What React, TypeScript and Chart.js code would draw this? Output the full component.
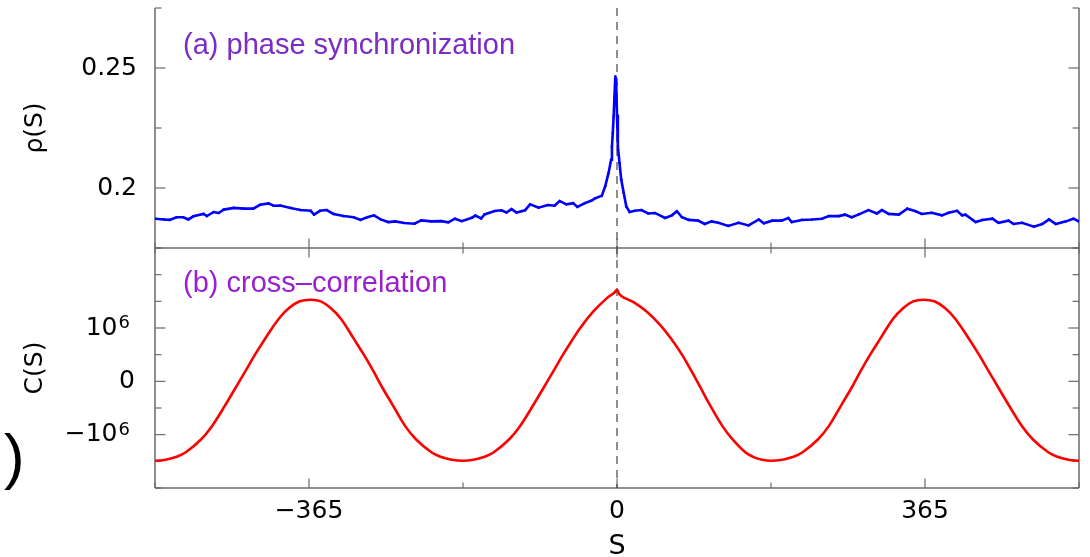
import React, { useEffect, useRef } from "react";
import { Chart, registerables } from "chart.js";

Chart.register(...registerables);

// ---------- data ----------
const lagPhase = [
  -547, -537, -530, -522, -514, -508, -502, -490, -486, -478, -472, -466, -454, -443, -431, -423, -413, -407, -399, -387,
  -375, -363, -359, -352, -344, -336, -324, -312, -304, -296, -288, -280, -271, -263, -252, -240, -232, -220, -208, -200,
  -192, -184, -172, -168, -161, -157, -145, -137, -131, -125, -119, -109, -103, -93, -82, -74, -68, -60, -52, -47,
  -38, -30, -26, -18, -14, -10, -7, -6, -5, -4, -3, -2, -1, 0, 1, 3, 5, 8, 11, 15,
  21, 29, 37, 45, 57, 65, 71, 77, 85, 96, 104, 112, 120, 132, 144, 156, 168, 174, 184, 195,
  203, 207, 219, 231, 243, 251, 263, 270, 278, 286, 298, 308, 314, 322, 334, 344, 354, 361, 373, 385,
  393, 403, 409, 413, 425, 433, 445, 452, 464, 470, 480, 494, 504, 512, 520, 532, 541, 547,
];
const rhoValues = [
  0.1872, 0.1869, 0.1867, 0.1878, 0.1878, 0.1869, 0.1882, 0.1892, 0.1883, 0.19, 0.1896, 0.191, 0.1917, 0.1914, 0.1914, 0.193, 0.1936, 0.1926, 0.1927, 0.1917,
  0.1908, 0.1905, 0.1889, 0.1905, 0.1908, 0.1892, 0.1883, 0.1878, 0.1867, 0.1878, 0.1886, 0.1869, 0.1858, 0.1861, 0.1854, 0.1851, 0.1865, 0.1861, 0.1862, 0.1857,
  0.1872, 0.1862, 0.1876, 0.1885, 0.1873, 0.189, 0.1904, 0.1907, 0.1898, 0.1912, 0.1898, 0.1907, 0.1932, 0.1918, 0.1929, 0.1926, 0.1946, 0.1932, 0.1937, 0.1921,
  0.1937, 0.1948, 0.1957, 0.1968, 0.2007, 0.2063, 0.2118, 0.2173, 0.2229, 0.2298, 0.2382, 0.2465, 0.2437, 0.2305, 0.2173, 0.2104, 0.2035, 0.1979, 0.1923, 0.19,
  0.1905, 0.1908, 0.1894, 0.1896, 0.1875, 0.1886, 0.1903, 0.1878, 0.1867, 0.1864, 0.185, 0.1861, 0.1855, 0.1842, 0.1855, 0.1844, 0.1869, 0.1853, 0.1864, 0.1864,
  0.1875, 0.1858, 0.1867, 0.1869, 0.1872, 0.1883, 0.1883, 0.1889, 0.1878, 0.1889, 0.1908, 0.1894, 0.1908, 0.1892, 0.1889, 0.1914, 0.1903, 0.1892, 0.1897, 0.1886,
  0.1897, 0.1905, 0.1886, 0.1889, 0.1858, 0.1867, 0.1872, 0.1855, 0.1864, 0.185, 0.1855, 0.1839, 0.185, 0.1869, 0.185, 0.1861, 0.1872, 0.1861,
];

const lagCorr = [
  -547.5, -535, -523, -511, -493, -480, -464, -452, -440, -429, -417, -401, -389, -376, -363,
  -351, -339, -327, -312, -300, -289, -278, -266, -251, -238, -220, -208, -196, -182.5,
  -170, -158, -146, -128, -115, -99, -87, -75, -64, -52, -44, -28, -12, -4, 0, 3, 7, 12, 19, 35,
  51, 65, 77, 88, 99, 110, 125, 137, 152, 162, 172, 182.5,
  196, 208, 220, 238, 251, 266, 278, 289, 300, 312, 327, 339, 351, 363,
  376, 389, 401, 417, 429, 440, 452, 464, 480, 493, 511, 523, 535, 547.5,
];
// C(S) in units of 10^6
const corrMillions = [
  -1.49, -1.47, -1.42, -1.33, -1.09, -0.84, -0.44, -0.12, 0.2, 0.5, 0.8, 1.17, 1.37, 1.5, 1.53,
  1.5, 1.37, 1.17, 0.8, 0.5, 0.2, -0.12, -0.44, -0.84, -1.09, -1.33, -1.42, -1.47, -1.49,
  -1.47, -1.42, -1.33, -1.09, -0.84, -0.44, -0.12, 0.2, 0.5, 0.8, 0.99, 1.31, 1.56, 1.65, 1.71, 1.63, 1.58, 1.54, 1.49, 1.31,
  1.06, 0.78, 0.5, 0.2, -0.12, -0.44, -0.84, -1.09, -1.33, -1.42, -1.47, -1.49,
  -1.47, -1.42, -1.33, -1.09, -0.84, -0.44, -0.12, 0.2, 0.5, 0.8, 1.17, 1.37, 1.5, 1.53,
  1.5, 1.37, 1.17, 0.8, 0.5, 0.2, -0.12, -0.44, -0.84, -1.09, -1.33, -1.42, -1.47, -1.49,
];

const xTickValues = [-547.5, -365, -182.5, 0, 182.5, 365, 547.5];
const xMajorTicks = [-365, 0, 365];
const xTickLabels = ["\u2212365", "0", "365"];

const rhoTickValues = [0.175, 0.2, 0.225, 0.25, 0.275];
const rhoMajorTicks = [0.2, 0.25];
const rhoTickLabels = ["0.2", "0.25"];

const corrTickValues = [-2e6, -1.5e6, -1e6, -0.5e6, 0, 0.5e6, 1e6, 1.5e6, 2e6, 2.5e6];
const corrMajorTicks = [-1e6, 0, 1e6];
const corrTickLabels = ["\u221210", "0", "10"];
const corrTickExponents = ["6", "", "6"];

const panelTitles = ["(a) phase synchronization", "(b) cross\u2013correlation"];

// ---------- helpers ----------
const TICK_FONT = "DejaVu Sans";
const TEXT_FONT = "Liberation Sans";
const SUP_SPACER = "\u2002\u2009";
const CORR_TICK_PAD = 20;

function idxOf(v: number, majors: number[]) {
  return majors.findIndex((m) => Math.abs(m - v) < 1e-9 * Math.max(1, Math.abs(m)));
}
function labelFor(v: number, majors: number[], labels: string[]) {
  const i = idxOf(v, majors);
  return i >= 0 ? labels[i] : "";
}
function isMajor(v: number, majors: number[]) {
  return idxOf(v, majors) >= 0;
}

const framePlugin = {
  id: "frame",
  beforeDatasetsDraw(chart: any) {
    const ctx: CanvasRenderingContext2D = chart.ctx;
    const xs = chart.scales.x;
    const yR = chart.scales.yR;
    const yC = chart.scales.yC;
    const L = xs.left;
    const R = xs.right;
    const top = yR.top;
    const mid = yR.bottom;
    const bot = yC.bottom;
    const line = (x1: number, y1: number, x2: number, y2: number) => {
      ctx.beginPath();
      ctx.moveTo(x1, y1);
      ctx.lineTo(x2, y2);
      ctx.stroke();
    };
    ctx.save();
    ctx.strokeStyle = "#6a6a6a";
    ctx.lineWidth = 1.5;
    line(L, top, L, bot);
    line(R, top, R, bot);
    line(L, mid, R, mid);
    line(L, bot, R, bot);
    ctx.lineWidth = 1.2;
    const yTicks = (sc: any, majors: number[]) => {
      for (const t of sc.ticks) {
        const p = sc.getPixelForValue(t.value);
        const len = isMajor(t.value, majors) ? 10.5 : 6.5;
        line(L, p, L + len, p);
        line(R, p, R - len, p);
      }
    };
    yTicks(yR, rhoMajorTicks);
    yTicks(yC, corrMajorTicks);
    for (const t of xs.ticks) {
      const p = xs.getPixelForValue(t.value);
      const len = isMajor(t.value, xMajorTicks) ? 9.5 : 5.5;
      line(p, bot, p, bot - len);
      line(p, mid - len, p, mid + len);
    }
    // dashed zero-lag line
    const x0 = xs.getPixelForValue(0);
    ctx.strokeStyle = "#444";
    ctx.lineWidth = 1.2;
    ctx.setLineDash([8, 6]);
    line(x0, top, x0, bot);
    ctx.setLineDash([]);
    // panel titles
    ctx.textAlign = "left";
    ctx.textBaseline = "alphabetic";
    ctx.font = `29px "${TEXT_FONT}"`;
    ctx.fillStyle = "#7a2cc4";
    ctx.fillText(panelTitles[0], L + 28, top + 46);
    ctx.fillStyle = "#9a1fd0";
    ctx.fillText(panelTitles[1], L + 28, mid + 44);
    // stray bracket from the cropped figure
    ctx.fillStyle = "#000";
    ctx.font = `62px "${TEXT_FONT}"`;
    ctx.fillText(")", 4, 477);
    ctx.restore();
  },
  afterDraw(chart: any) {
    // exponents of the 10^6 tick labels
    const ctx: CanvasRenderingContext2D = chart.ctx;
    const yC = chart.scales.yC;
    ctx.save();
    ctx.font = `25px "${TICK_FONT}"`;
    const spacerW = ctx.measureText(SUP_SPACER).width;
    ctx.font = `18px "${TICK_FONT}"`;
    ctx.fillStyle = "#000";
    ctx.textAlign = "left";
    ctx.textBaseline = "alphabetic";
    corrMajorTicks.forEach((v, i) => {
      const e = corrTickExponents[i];
      if (!e) return;
      const p = yC.getPixelForValue(v);
      ctx.fillText(e, yC.right - CORR_TICK_PAD - spacerW + 1, p);
    });
    ctx.restore();
  },
};

const noPad = (s: any) => {
  s.paddingTop = 0;
  s.paddingBottom = 0;
  s.paddingLeft = 0;
  s.paddingRight = 0;
};

export default function App() {
  const ref = useRef<HTMLCanvasElement | null>(null);
  useEffect(() => {
    if (!ref.current) return;
    const chart = new Chart(ref.current, {
      type: "line",
      data: {
        datasets: [
          {
            label: "rho",
            data: lagPhase.map((s, i) => ({ x: s, y: rhoValues[i] })),
            yAxisID: "yR",
            borderColor: "#0000ff",
            backgroundColor: "#0000ff",
            borderWidth: 2.6,
            pointRadius: 1.3,
            pointBorderWidth: 0,
            tension: 0,
          },
          {
            label: "C",
            data: lagCorr.map((s, i) => ({ x: s, y: corrMillions[i] * 1e6 })),
            yAxisID: "yC",
            borderColor: "#ff0000",
            backgroundColor: "#ff0000",
            borderWidth: 2.6,
            pointRadius: 0,
            tension: 0.4,
          },
        ],
      },
      options: {
        responsive: false,
        animation: false,
        events: [],
        layout: { padding: { left: 0, right: 11, top: 8, bottom: 0 } },
        plugins: { legend: { display: false }, tooltip: { enabled: false } },
        scales: {
          x: {
            type: "linear",
            position: "bottom",
            min: -547.5,
            max: 547.5,
            afterBuildTicks: (s: any) => {
              s.ticks = xTickValues.map((v) => ({ value: v }));
            },
            afterFit: (s: any) => {
              s.height = 69;
              noPad(s);
            },
            grid: { display: false, drawTicks: false },
            border: { display: false },
            ticks: {
              autoSkip: false,
              maxRotation: 0,
              padding: 8,
              color: "#000",
              font: { family: TICK_FONT, size: 25 },
              callback: (v: any) => labelFor(Number(v), xMajorTicks, xTickLabels),
            },
            title: {
              display: true,
              text: "S",
              color: "#000",
              font: { family: TICK_FONT, size: 27, lineHeight: 0.72 },
              padding: { top: 0, bottom: 0 },
            },
          },
          yC: {
            type: "linear",
            position: "left",
            stack: "panels",
            stackWeight: 1,
            min: -2e6,
            max: 2.5e6,
            afterBuildTicks: (s: any) => {
              s.ticks = corrTickValues.map((v) => ({ value: v }));
            },
            afterFit: (s: any) => {
              s.width = 155;
              noPad(s);
            },
            grid: { display: false, drawTicks: false },
            border: { display: false },
            ticks: {
              autoSkip: false,
              padding: CORR_TICK_PAD,
              color: "#000",
              font: { family: TICK_FONT, size: 25 },
              callback: (v: any) => {
                const i = idxOf(Number(v), corrMajorTicks);
                if (i < 0) return "";
                return corrTickLabels[i] + (corrTickExponents[i] ? SUP_SPACER : "");
              },
            },
            title: {
              display: true,
              text: "C(S)",
              color: "#000",
              font: { family: TICK_FONT, size: 25, lineHeight: 1 },
              padding: { top: 23, bottom: 0 },
            },
          },
          yR: {
            type: "linear",
            position: "left",
            stack: "panels",
            stackWeight: 1,
            min: 0.175,
            max: 0.275,
            afterBuildTicks: (s: any) => {
              s.ticks = rhoTickValues.map((v) => ({ value: v }));
            },
            afterFit: (s: any) => {
              s.width = 155;
              noPad(s);
            },
            grid: { display: false, drawTicks: false },
            border: { display: false },
            ticks: {
              autoSkip: false,
              padding: 18,
              color: "#000",
              font: { family: TICK_FONT, size: 25 },
              callback: (v: any) => labelFor(Number(v), rhoMajorTicks, rhoTickLabels),
            },
            title: {
              display: true,
              text: "\u03c1(S)",
              color: "#000",
              font: { family: TICK_FONT, size: 25, lineHeight: 1 },
              padding: { top: 23, bottom: 0 },
            },
          },
        },
      } as any,
      plugins: [framePlugin],
    });
    return () => chart.destroy();
  }, []);
  return (
    <div style={{ position: "absolute", left: 0, top: 0, width: 1090, height: 557, background: "#fff" }}>
      <canvas ref={ref} width={1090} height={557} style={{ display: "block", width: 1090, height: 557 }} />
    </div>
  );
}
